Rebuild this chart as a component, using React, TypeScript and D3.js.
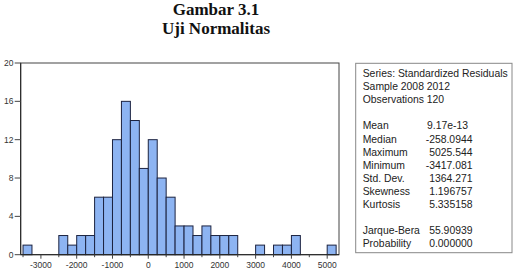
import * as d3 from 'd3'

// histogram bins, width 250, starting at -3500
const binStarts = [
  -3500, -3250, -3000, -2750, -2500, -2250, -2000, -1750, -1500, -1250, -1000, -750, -500, -250,
  0, 250, 500, 750, 1000, 1250, 1500, 1750, 2000, 2250, 2500, 2750, 3000, 3250, 3500, 3750, 4000,
  4250, 4500, 4750, 5000,
]
const binCounts = [
  1, 0, 0, 0, 2, 1, 2, 2, 6, 6, 12, 16, 14, 9, 12, 8, 6, 3, 3, 2, 3, 2, 2, 2, 0, 0, 1, 0, 1, 1, 2,
  0, 0, 0, 1,
]
const binWidth = 250
const xTicks = [-3000, -2000, -1000, 0, 1000, 2000, 3000, 4000, 5000]
const xMinorTicks = [-3500, -2500, -1500, -500, 500, 1500, 2500, 3500, 4500]
const yTicks = [0, 4, 8, 12, 16, 20]

const headerLines = ['Series: Standardized Residuals', 'Sample 2008 2012', 'Observations 120']
const statNames = ['Mean', 'Median', 'Maximum', 'Minimum', 'Std. Dev.', 'Skewness', 'Kurtosis']
const statValues = ['9.17e-13', '-258.0944', '5025.544', '-3417.081', '1364.271', '1.196757', '5.335158']
const testNames = ['Jarque-Bera', 'Probability']
const testValues = ['55.90939', '0.000000']

export default function App() {
  const left = 20.7
  const right = 339
  const top = 63
  const bottom = 254.7

  const x = d3.scaleLinear().domain([-3565, 5330]).range([left, right])
  const y = d3.scaleLinear().domain([0, 20]).range([bottom, top])

  const font = 'Arial, "Liberation Sans", sans-serif'
  const lineH = 13.1
  const textX = 362.7
  const valX = 472.5

  return (
    <svg
      width={520}
      height={271}
      style={{ position: 'absolute', left: 0, top: 0, background: '#fff' }}
    >
      {/* title */}
      <g fontFamily='"Liberation Serif", "Times New Roman", serif' fontWeight="bold" fontSize={17} textAnchor="middle" fill="#111">
        <text x={216} y={15}>Gambar 3.1</text>
        <text x={216} y={34}>Uji Normalitas</text>
      </g>

      {/* bars */}
      <g>
        {binStarts.map((b, i) =>
          binCounts[i] > 0 ? (
            <rect
              key={b}
              x={x(b)}
              y={y(binCounts[i])}
              width={x(b + binWidth) - x(b)}
              height={y(0) - y(binCounts[i])}
              fill="#8db4f2"
              stroke="#1c2340"
              strokeWidth={1}
            />
          ) : null
        )}
      </g>

      {/* frame */}
      <rect x={left} y={top} width={right - left} height={bottom - top} fill="none" stroke="#444" strokeWidth={1} />
      <line x1={left} x2={left} y1={top} y2={bottom} stroke="#222" />
      <line x1={left} x2={right} y1={bottom} y2={bottom} stroke="#222" />

      {/* y axis */}
      <g fontFamily={font} fontSize={8.5} fill="#333" textAnchor="end">
        {yTicks.map(t => (
          <g key={t}>
            <line x1={left - 6} x2={left} y1={y(t)} y2={y(t)} stroke="#444" />
            <text x={13.5} y={y(t) + 3}>{t}</text>
          </g>
        ))}
      </g>

      {/* x axis */}
      <g fontFamily={font} fontSize={8.5} fill="#333" textAnchor="middle">
        {xTicks.map(t => (
          <g key={t}>
            <line x1={x(t)} x2={x(t)} y1={bottom} y2={bottom + 4} stroke="#444" />
            <text x={x(t)} y={bottom + 13}>{t}</text>
          </g>
        ))}
        {xMinorTicks.map(t => (
          <line key={t} x1={x(t)} x2={x(t)} y1={bottom} y2={bottom + 2.5} stroke="#444" />
        ))}
      </g>

      {/* stats box */}
      <rect x={355.7} y={63.3} width={156.3} height={189.4} fill="#fff" stroke="#888" strokeWidth={1} />
      <g fontFamily={font} fontSize={10.4} fill="#222">
        {headerLines.map((s, i) => (
          <text key={s} x={textX} y={77 + i * lineH}>{s}</text>
        ))}
        {statNames.map((s, i) => (
          <g key={s}>
            <text x={textX} y={77 + (i + 4) * lineH}>{s}</text>
            <text x={i === 0 ? valX - 4.5 : valX} y={77 + (i + 4) * lineH} textAnchor="end">
              {statValues[i]}
            </text>
          </g>
        ))}
        {testNames.map((s, i) => (
          <g key={s}>
            <text x={textX} y={77 + (i + 12) * lineH}>{s}</text>
            <text x={valX} y={77 + (i + 12) * lineH} textAnchor="end">
              {testValues[i]}
            </text>
          </g>
        ))}
      </g>
    </svg>
  )
}
